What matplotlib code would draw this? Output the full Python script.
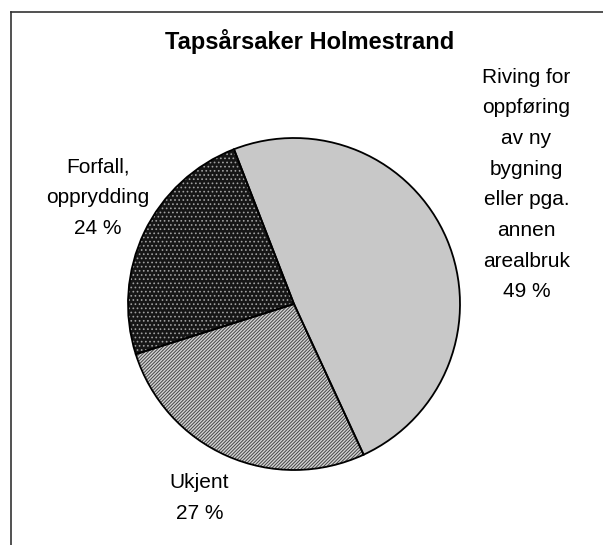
import matplotlib.pyplot as plt
from matplotlib.lines import Line2D

# data
labels = ['Riving for\noppføring\nav ny\nbygning\neller pga.\nannen\narealbruk', 'Ukjent', 'Forfall,\nopprydding']
shares = [49, 27, 24]   # prosent

plt.rcParams['font.family'] = ['Liberation Sans', 'DejaVu Sans']
plt.rcParams['hatch.linewidth'] = 0.7

W, H = 603, 545
fig = plt.figure(figsize=(W / 100, H / 100), dpi=100)

# pie centre (294, 304) px, radius 166 px
cx, cy, r = 294, 304, 166
ax = fig.add_axes([(cx - r) / W, (H - cy - r) / H, 2 * r / W, 2 * r / H])
ax.axis('off')

faces = ['#c8c8c8', '#d4d4d4', '#161616']
wedges, _ = ax.pie(shares, startangle=111.2, counterclock=False, radius=1,
                   colors=faces, wedgeprops=dict(linewidth=0))
# textures
wedges[1].set_hatch('//////////')
wedges[1].set_edgecolor('#444444')
wedges[2].set_hatch('....')
wedges[2].set_edgecolor('#a0a0a0')

# outlines on top
ax.pie(shares, startangle=111.2, counterclock=False, radius=1,
       colors=['none'] * 3,
       wedgeprops=dict(linewidth=1.3, edgecolor='black', fill=False))
ax.set_xlim(-1, 1)
ax.set_ylim(-1, 1)

# label positions relative to the pie
label_pos = [(1.40, 0.72), (-0.57, -1.17), (-1.18, 0.64)]
for lab, val, (x, y) in zip(labels, shares, label_pos):
    ax.text(x, y, f'{lab}\n{val} %', ha='center', va='center', fontsize=15,
            linespacing=1.78, clip_on=False, color='black')

fig.text(310 / W, 1 - 42 / H, 'Tapsårsaker Holmestrand', ha='center', va='center',
         fontsize=17, fontweight='bold')

# chart area border (top and left only visible)
fig.add_artist(Line2D([11 / W, 11 / W], [0, 1 - 12 / H], color='#333333', lw=1.2))
fig.add_artist(Line2D([11 / W, 1], [1 - 12 / H, 1 - 12 / H], color='#333333', lw=1.2))

fig.savefig('out.png', dpi=100)
